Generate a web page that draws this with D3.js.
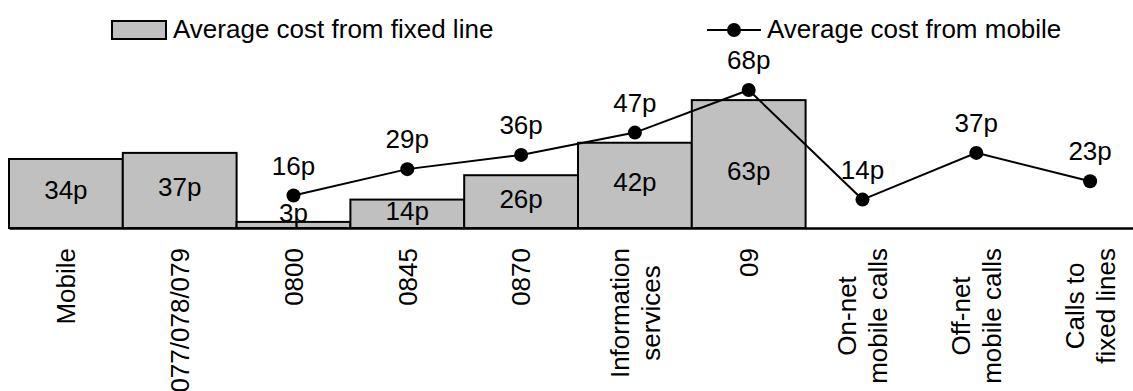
<!DOCTYPE html>
<html>
<head>
<meta charset="utf-8">
<script src="https://cdn.jsdelivr.net/npm/d3@7"></script>
<style>
  html, body { margin: 0; padding: 0; background: #fff; }
  svg { display: block; }
  text { font-family: "Liberation Sans", Arial, sans-serif; font-size: 26px; fill: #000; }
</style>
</head>
<body>
<svg id="chart" width="1133" height="391"></svg>
<script>
const categories = ["Mobile", "077/078/079", "0800", "0845", "0870", "Information\nservices", "09", "On-net\nmobile calls", "Off-net\nmobile calls", "Calls to\nfixed lines"];
const fixedLine = [34, 37, 3, 14, 26, 42, 63, null, null, null];
const mobile = [null, null, 16, 29, 36, 47, 68, 14, 37, 23];
const legendLabels = ["Average cost from fixed line", "Average cost from mobile"];
const unit = "p";

const W = 1133, H = 391;
const svg = d3.select("#chart");

const x = d3.scaleBand().domain(categories).range([9, 1147]).padding(0);
const y = d3.scaleLinear().domain([0, 100]).range([228, 25]);

// Bars
const barData = categories.map((c, i) => ({ c, v: fixedLine[i] })).filter(d => d.v != null);
svg.append("g").selectAll("rect").data(barData).join("rect")
  .attr("x", d => x(d.c))
  .attr("y", d => y(d.v))
  .attr("width", x.bandwidth())
  .attr("height", d => y(0) - y(d.v))
  .attr("fill", "#c0c0c0")
  .attr("stroke", "#000")
  .attr("stroke-width", 2);

// Axis
const axisG = svg.append("g").attr("transform", `translate(0,${y(0)})`)
  .call(d3.axisBottom(x).tickSize(0).tickSizeOuter(0));
axisG.select(".domain").attr("stroke", "#000").attr("stroke-width", 2.5);
axisG.selectAll(".tick text").each(function(d) {
  const t = d3.select(this);
  t.text(null).attr("y", null).attr("dy", null)
    .attr("font-family", null).attr("font-size", null)
    .attr("fill", "#000")
    .attr("transform", "rotate(-90)")
    .attr("text-anchor", "middle");
  const lines = d.split("\n");
  const n = lines.length;
  const spans = lines.map((ln, i) => t.append("tspan")
    .attr("y", (i - (n - 1) / 2) * 31 + 9.3)
    .text(ln));
  const maxLen = d3.max(spans, s => s.node().getComputedTextLength());
  spans.forEach(s => s.attr("x", -(20 + maxLen / 2)));
});

// Bar labels
svg.append("g").selectAll("text").data(barData).join("text")
  .attr("x", d => x(d.c) + x.bandwidth() / 2)
  .attr("y", d => Math.max(y(0) - 48, Math.min(y(d.v / 2) + 6, y(0) - 6)))
  .attr("text-anchor", "middle")
  .text(d => d.v + unit);

// Line
const lineData = categories.map((c, i) => ({ c, v: mobile[i] })).filter(d => d.v != null);
const line = d3.line().x(d => x(d.c) + x.bandwidth() / 2).y(d => y(d.v));
svg.append("path").datum(lineData)
  .attr("d", line)
  .attr("fill", "none")
  .attr("stroke", "#000")
  .attr("stroke-width", 2);
svg.append("g").selectAll("circle").data(lineData).join("circle")
  .attr("cx", d => x(d.c) + x.bandwidth() / 2)
  .attr("cy", d => y(d.v))
  .attr("r", 7)
  .attr("fill", "#000");
svg.append("g").selectAll("text").data(lineData).join("text")
  .attr("x", d => x(d.c) + x.bandwidth() / 2)
  .attr("y", d => y(d.v) - 21)
  .attr("text-anchor", "middle")
  .text(d => d.v + unit);

// Legend
const lg = svg.append("g");
lg.append("rect").attr("x", 112).attr("y", 21).attr("width", 54).attr("height", 18)
  .attr("fill", "#c0c0c0").attr("stroke", "#000").attr("stroke-width", 2);
lg.append("text").attr("x", 173).attr("y", 38).text(legendLabels[0]);
lg.append("line").attr("x1", 707).attr("x2", 761).attr("y1", 30).attr("y2", 30)
  .attr("stroke", "#000").attr("stroke-width", 2);
lg.append("circle").attr("cx", 734).attr("cy", 30).attr("r", 7).attr("fill", "#000");
lg.append("text").attr("x", 767).attr("y", 38).text(legendLabels[1]);
</script>
</body>
</html>
